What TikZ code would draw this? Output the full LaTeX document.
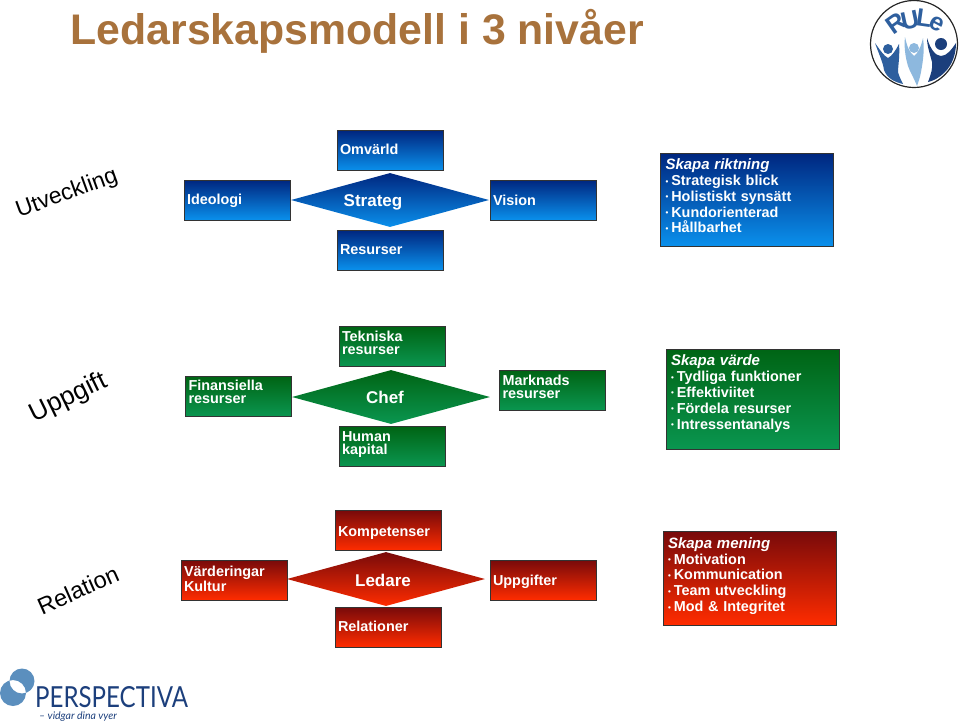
\documentclass[tikz,border=0pt]{standalone}
\usepackage{fontspec}
\setmainfont{Liberation Sans}
\newfontfamily\logofont{Lato}
\usetikzlibrary{shapes.geometric}
\definecolor{blueTop}{HTML}{00267F}
\definecolor{blueBot}{HTML}{0A90EC}
\definecolor{greenTop}{HTML}{006414}
\definecolor{greenBot}{HTML}{0A9650}
\definecolor{redTop}{HTML}{780A0A}
\definecolor{redBot}{HTML}{FF2C00}
\definecolor{titleBrown}{HTML}{A8723C}
\definecolor{logoBlue}{HTML}{2E5F9E}
\definecolor{logoLight}{HTML}{8DB8DE}
\definecolor{logoNavy}{HTML}{1C3F7C}
\definecolor{ringBlue}{HTML}{5B8FBE}
\newcommand{\blt}{{\fontsize{8}{8}\selectfont\raisebox{1.5pt}{\textbullet}}\hspace{3pt}}
\newcommand{\headline}[1]{{\fontsize{15}{15.8}\selectfont\textit{#1}}}
\begin{document}
\begin{tikzpicture}[x=1pt,y=-1pt,
  bluefill/.style={top color=blueTop,bottom color=blueBot},
  greenfill/.style={top color=greenTop,bottom color=greenBot},
  redfill/.style={top color=redTop,bottom color=redBot},
  smallbox/.style={draw=black!80,line width=1pt,minimum width=106pt,minimum height=40pt,inner xsep=3pt,inner ysep=0pt,text width=100pt,align=left,text=white,font=\bfseries\fontsize{14.4}{13}\selectfont},
  bigbox/.style={draw=black!80,line width=1pt,minimum width=173pt,inner xsep=5pt,inner ysep=0pt,text width=163pt,align=left,text=white,font=\bfseries\fontsize{14.4}{15.8}\selectfont},
  midshape/.style={diamond,aspect=3.67,inner sep=0pt,minimum width=198pt,minimum height=54pt},
  midtext/.style={text=white,font=\bfseries\fontsize{17}{17}\selectfont},
  sidetext/.style={font=\fontsize{23}{24}\selectfont,text=black}]
\useasboundingbox (0,0) rectangle (960,724);
\node[font=\bfseries\fontsize{42.8}{43}\selectfont,text=titleBrown,anchor=west] (title) at (67,31) {Ledarskapsmodell i 3 nivåer};
% Utveckling
\node[sidetext,rotate=20] (utveckling) at (67,194) {Utveckling};
\node[smallbox,bluefill] (omvarld) at (390,150.5) {Omvärld\par\vspace{2pt}};
\node[smallbox,bluefill] (ideologi) at (237,200) {\rule{0pt}{13pt}Ideologi};
\node[smallbox,bluefill] (vision) at (543,200) {Vision};
\node[smallbox,bluefill] (resurser) at (390,250) {Resurser};
\node[midshape,bluefill,label={[midtext,xshift=-17pt,yshift=-2pt]center:Strateg}] (strateg) at (390,200) {};
\node[bigbox,bluefill,minimum height=93pt] (riktning) at (747,199.5) {\headline{Skapa riktning}\\\blt Strategisk blick\\\blt Holistiskt synsätt\\\blt Kundorienterad\\\blt Hållbarhet\par\vspace{7pt}};
% Uppgift
\node[sidetext,font=\fontsize{26}{26}\selectfont,rotate=26] (uppgift) at (69,398) {Uppgift};
\node[smallbox,greenfill,minimum width=104pt] (tekniska) at (392,346.5) {Tekniska\\resurser\par\vspace{7pt}};
\node[smallbox,greenfill,minimum width=105pt] (finansiella) at (238.5,396.5) {Finansiella\\resurser\par\vspace{9pt}};
\node[smallbox,greenfill] (marknads) at (552.5,390.5) {Marknads\\resurser\par\vspace{7pt}};
\node[smallbox,greenfill,minimum width=104pt] (human) at (392,446.5) {Human\\kapital\par\vspace{3pt}};
\node[midshape,greenfill,label={[midtext,xshift=-6pt]center:Chef}] (chef) at (391,397) {};
\node[bigbox,greenfill,minimum height=100pt] (varde) at (752.5,399) {\headline{Skapa värde}\\\blt Tydliga funktioner\\\blt Effektiviitet\\\blt Fördela resurser\\\blt Intressentanalys\par\vspace{11pt}};
% Relation
\node[sidetext,font=\fontsize{23.5}{24}\selectfont,rotate=24] (relation) at (78,590) {Relation};
\node[smallbox,redfill] (kompetenser) at (388,530.5) {\rule{0pt}{15pt}Kompetenser};
\node[smallbox,redfill] (varderingar) at (234,580) {Värderingar\\Kultur\par\vspace{2pt}};
\node[smallbox,redfill] (uppgifter) at (543,580) {\rule{0pt}{15pt}Uppgifter};
\node[smallbox,redfill] (relationer) at (388,627) {Relationer\par\vspace{2pt}};
\node[midshape,redfill,label={[midtext,xshift=-3pt,yshift=-1pt]center:Ledare}] (ledare) at (386,579) {};
\node[bigbox,redfill,minimum height=94pt] (mening) at (749.5,578) {\headline{Skapa mening}\\\blt Motivation\\\blt Kommunication\\\blt Team utveckling\\\blt Mod \& Integritet\par\vspace{4pt}};
% RULe logo
\draw[black!85,line width=1.2pt,fill=white] (914,44) circle (43.5);
\fill[logoBlue] (875,43) .. controls (880,50) and (884,56) .. (888,58) .. controls (892,56) and (896,50) .. (899,44) .. controls (900,56) and (898,66) .. (898,72) .. controls (899,76) and (901,80) .. (903,84) .. controls (894,82) and (887,78) .. (884,70) .. controls (883,62) and (878,52) .. (875,43) -- cycle;
\fill[logoBlue] (888,49) circle (5);
\fill[logoLight] (905,37) .. controls (907,47) and (910,53) .. (914,56) .. controls (918,53) and (921,47) .. (923,38) .. controls (925,52) and (922,66) .. (921,72) .. controls (920,78) and (918,83) .. (917,86) .. controls (914,78) and (910,72) .. (908,66) .. controls (905,56) and (904,46) .. (905,37) -- cycle;
\fill[logoLight] (914,48) circle (5);
\fill[logoNavy] (927,38) .. controls (930,48) and (935,56) .. (941,56) .. controls (947,56) and (952,49) .. (956,43) .. controls (956,56) and (951,66) .. (945,72) .. controls (939,78) and (933,81) .. (928,82) .. controls (931,74) and (933,68) .. (932,62) .. controls (930,54) and (927,46) .. (927,38) -- cycle;
\fill[logoNavy] (941,44) circle (6);
\node[font=\bfseries\fontsize{25}{25}\selectfont,text=logoBlue,rotate=35,inner sep=0pt] (letterR) at (896,23) {R};
\node[font=\bfseries\fontsize{25}{25}\selectfont,text=logoBlue,rotate=12,inner sep=0pt] (letterU) at (910,20) {U};
\node[font=\bfseries\fontsize{25}{25}\selectfont,text=logoBlue,rotate=-8,inner sep=0pt] (letterL) at (924,18) {L};
\node[font=\bfseries\fontsize{25}{25}\selectfont,text=logoBlue,rotate=-28,inner sep=0pt] (letterE) at (937,24) {e};
% Perspectiva logo
\fill[ringBlue,even odd rule] (13,693) circle (13) (22,681) circle (12.5);
\node[font=\logofont\fontsize{29}{29}\selectfont,text=logoNavy,anchor=west,inner sep=0pt,xscale=0.83] (perspectiva) at (35,697) {PERSPECTIVA};
\node[font=\logofont\itshape\fontsize{10.5}{10.5}\selectfont,text=logoNavy,anchor=west,inner sep=0pt] (vidgar) at (39,717) {– vidgar dina vyer};
\end{tikzpicture}
\end{document}
